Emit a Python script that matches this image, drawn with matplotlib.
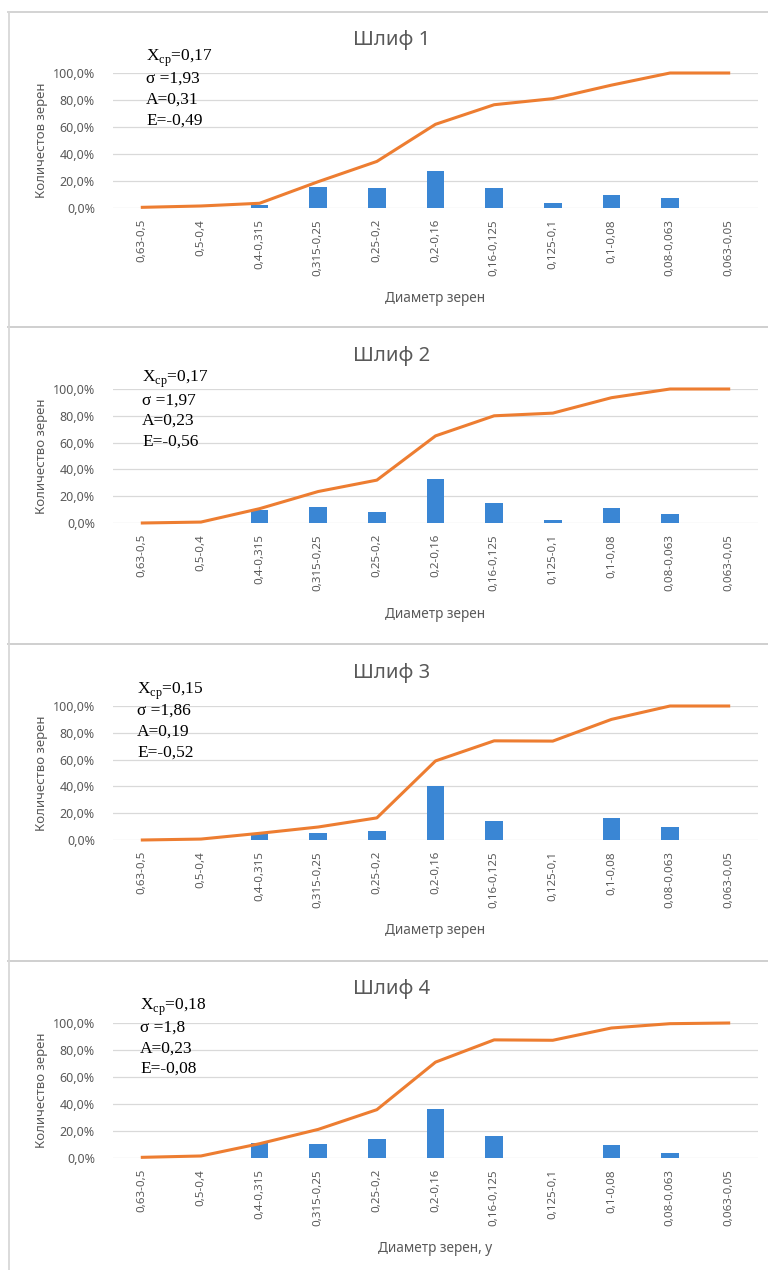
import matplotlib.pyplot as plt
from matplotlib.lines import Line2D

plt.rcParams["mathtext.fontset"] = "custom"
plt.rcParams["mathtext.rm"] = "Liberation Serif"

W, H = 768, 1270

sizes = ["0,63-0,5", "0,5-0,4", "0,4-0,315", "0,315-0,25", "0,25-0,2", "0,2-0,16",
         "0,16-0,125", "0,125-0,1", "0,1-0,08", "0,08-0,063", "0,063-0,05"]

titles = ["Шлиф 1", "Шлиф 2", "Шлиф 3", "Шлиф 4"]
ylabels = ["Количестов зерен", "Количество зерен", "Количество зерен", "Количество зерен"]
xlabels = ["Диаметр зерен", "Диаметр зерен", "Диаметр зерен", "Диаметр зерен, y"]

# share of grains per fraction, %
share1 = [0.3, 0.3, 2, 15.5, 14.5, 27.5, 14.5, 3.5, 10, 7.5, 0]
share2 = [0, 0, 10, 12, 8.5, 33, 15, 2, 11, 6.5, 0]
share3 = [0, 0, 5, 5.5, 6.5, 40, 14.5, 0, 16.5, 10, 0]
share4 = [0.3, 0.3, 11, 10.5, 14, 36, 16, 0, 9.5, 4, 0]

# cumulative share, %
cum1 = [0.5, 1.5, 3.5, 19.5, 34.5, 62, 76.5, 81, 91, 100, 100]
cum2 = [0, 0.7, 10.7, 23.5, 32, 65, 80, 82, 93.5, 100, 100]
cum3 = [0, 0.7, 5, 9.7, 16.5, 59, 74, 73.8, 90, 100, 100]
cum4 = [0.5, 1.5, 10.6, 21.2, 35.8, 71, 87.5, 87.2, 96.3, 99.5, 100]

stats = [
    ["0,17", "1,93", "0,31", "-0,49"],
    ["0,17", "1,97", "0,23", "-0,56"],
    ["0,15", "1,86", "0,19", "-0,52"],
    ["0,18", "1,8", "0,23", "-0,08"],
]

shares = [share1, share2, share3, share4]
cums = [cum1, cum2, cum3, cum4]

# pixel layout of each panel: box top, box bottom, 100% line, 0% line,
# title y, stats x, stats rows y, x-label y
panels = [
    dict(top=12, bottom=327, y100=73, y0=208, ty=40, sx=146, sy=[58, 79, 100, 121], xl=298),
    dict(top=327, bottom=644, y100=389, y0=523, ty=356, sx=142, sy=[379, 401, 421, 442], xl=614),
    dict(top=644, bottom=961, y100=706, y0=840, ty=673, sx=137, sy=[691, 711, 732, 753], xl=931),
    dict(top=961, bottom=1272, y100=1023, y0=1158, ty=989, sx=140, sy=[1007, 1028, 1049, 1069], xl=1248),
]

BLUE = "#3A86D4"
ORANGE = "#ED7D31"
GRID = "#D9D9D9"
TXT = "#595959"
FONT = "Noto Sans"
SERIF = "Liberation Serif"

fig = plt.figure(figsize=(W / 100, H / 100), dpi=100)
fig.patch.set_facecolor("white")


def fx(x):
    return x / W


def fy(y):
    return 1 - y / H


ax_left, ax_right = 113, 758

for i, p in enumerate(panels):
    # panel frame
    for y in (p["top"], p["bottom"]):
        fig.add_artist(Line2D([fx(8), 1], [fy(y), fy(y)], color="#D0D0D0", lw=1.3))
    fig.add_artist(Line2D([fx(9), fx(9)], [fy(p["top"]), fy(p["bottom"])], color="#D8D8D8", lw=1.3))

    ax = fig.add_axes([fx(ax_left), fy(p["y0"]), (ax_right - ax_left) / W, (p["y0"] - p["y100"]) / H])
    x = list(range(len(sizes)))
    ax.bar(x, shares[i], width=0.3, color=BLUE, zorder=2)
    ax.plot(x, cums[i], color=ORANGE, lw=2.2, zorder=3, clip_on=False, solid_joinstyle="round")
    ax.set_xlim(-0.5, len(sizes) - 0.5)
    ax.set_ylim(0, 100)
    ax.set_yticks([0, 20, 40, 60, 80, 100])
    ax.set_yticklabels(["0,0%", "20,0%", "40,0%", "60,0%", "80,0%", "100,0%"],
                       fontsize=9, color=TXT, family=FONT)
    ax.set_xticks(x)
    ax.set_xticklabels(sizes, rotation=90, fontsize=8.3, color=TXT, family=FONT, va="top", ha="center")
    ax.tick_params(length=0, pad=8)
    ax.tick_params(axis="y", pad=13)
    ax.grid(axis="y", color=GRID, lw=0.9, zorder=0)
    for s in ax.spines.values():
        s.set_visible(False)
    ax.set_facecolor("none")

    fig.text(fx(392), fy(p["ty"]), titles[i], fontsize=14.5, color=TXT, family=FONT, ha="center", va="center")
    fig.text(fx(42), fy((p["y0"] + p["y100"]) / 2), ylabels[i], rotation=90, fontsize=9.5,
             color=TXT, family=FONT, ha="center", va="center")
    fig.text(fx(435), fy(p["xl"]), xlabels[i], fontsize=9.8, color=TXT, family=FONT,
             ha="center", va="center")

    xcp, sigma, a, e = stats[i]
    rows = [r"X$_{\mathrm{ср}}$=" + xcp, "σ =" + sigma, "A=" + a, "E=" + e]
    for row, y in zip(rows, p["sy"]):
        fig.text(fx(p["sx"]), fy(y), row, fontsize=12.5, color="black", family=SERIF,
                 ha="left", va="center")

fig.savefig("out.png", dpi=100, facecolor="white")
